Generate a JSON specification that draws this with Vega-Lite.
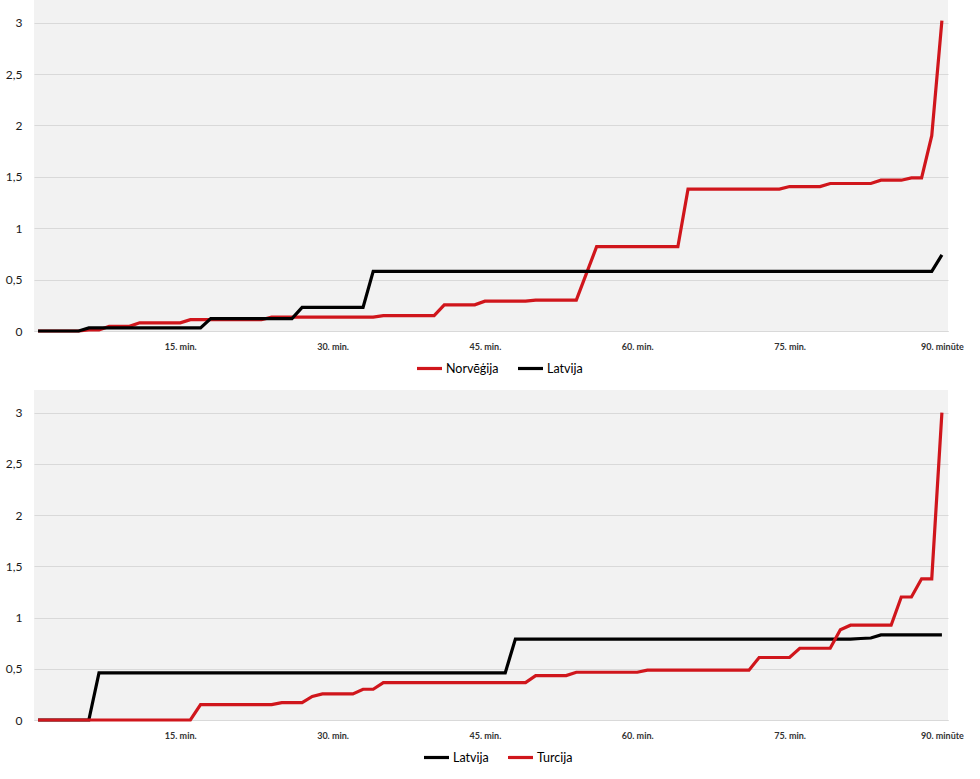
{
  "$schema": "https://vega.github.io/schema/vega-lite/v6.json",
  "padding": 0,
  "background": "white",
  "spacing": 59,
  "bounds": "flush",
  "datasets": {
    "top": [
      {"team": "Norvēģija", "minute": 1, "xg": 0},
      {"team": "Norvēģija", "minute": 5, "xg": 0},
      {"team": "Norvēģija", "minute": 6, "xg": 0.01},
      {"team": "Norvēģija", "minute": 7, "xg": 0.01},
      {"team": "Norvēģija", "minute": 8, "xg": 0.045},
      {"team": "Norvēģija", "minute": 10, "xg": 0.045},
      {"team": "Norvēģija", "minute": 11, "xg": 0.08},
      {"team": "Norvēģija", "minute": 15, "xg": 0.08},
      {"team": "Norvēģija", "minute": 16, "xg": 0.11},
      {"team": "Norvēģija", "minute": 23, "xg": 0.11},
      {"team": "Norvēģija", "minute": 24, "xg": 0.135},
      {"team": "Norvēģija", "minute": 34, "xg": 0.135},
      {"team": "Norvēģija", "minute": 35, "xg": 0.15},
      {"team": "Norvēģija", "minute": 40, "xg": 0.15},
      {"team": "Norvēģija", "minute": 41, "xg": 0.255},
      {"team": "Norvēģija", "minute": 44, "xg": 0.255},
      {"team": "Norvēģija", "minute": 45, "xg": 0.29},
      {"team": "Norvēģija", "minute": 49, "xg": 0.29},
      {"team": "Norvēģija", "minute": 50, "xg": 0.3},
      {"team": "Norvēģija", "minute": 54, "xg": 0.3},
      {"team": "Norvēģija", "minute": 55, "xg": 0.56},
      {"team": "Norvēģija", "minute": 56, "xg": 0.82},
      {"team": "Norvēģija", "minute": 64, "xg": 0.82},
      {"team": "Norvēģija", "minute": 65, "xg": 1.38},
      {"team": "Norvēģija", "minute": 74, "xg": 1.38},
      {"team": "Norvēģija", "minute": 75, "xg": 1.405},
      {"team": "Norvēģija", "minute": 78, "xg": 1.405},
      {"team": "Norvēģija", "minute": 79, "xg": 1.435},
      {"team": "Norvēģija", "minute": 83, "xg": 1.435},
      {"team": "Norvēģija", "minute": 84, "xg": 1.467},
      {"team": "Norvēģija", "minute": 86, "xg": 1.467},
      {"team": "Norvēģija", "minute": 87, "xg": 1.49},
      {"team": "Norvēģija", "minute": 88, "xg": 1.49},
      {"team": "Norvēģija", "minute": 89, "xg": 1.9},
      {"team": "Norvēģija", "minute": 90, "xg": 3.02},
      {"team": "Latvija", "minute": 1, "xg": 0},
      {"team": "Latvija", "minute": 5, "xg": 0},
      {"team": "Latvija", "minute": 6, "xg": 0.03},
      {"team": "Latvija", "minute": 17, "xg": 0.03},
      {"team": "Latvija", "minute": 18, "xg": 0.12},
      {"team": "Latvija", "minute": 26, "xg": 0.12},
      {"team": "Latvija", "minute": 27, "xg": 0.23},
      {"team": "Latvija", "minute": 33, "xg": 0.23},
      {"team": "Latvija", "minute": 34, "xg": 0.58},
      {"team": "Latvija", "minute": 89, "xg": 0.58},
      {"team": "Latvija", "minute": 90, "xg": 0.74}
    ],
    "bottom": [
      {"team": "Latvija", "minute": 1, "xg": 0},
      {"team": "Latvija", "minute": 6, "xg": 0},
      {"team": "Latvija", "minute": 7, "xg": 0.46},
      {"team": "Latvija", "minute": 47, "xg": 0.46},
      {"team": "Latvija", "minute": 48, "xg": 0.79},
      {"team": "Latvija", "minute": 81, "xg": 0.79},
      {"team": "Latvija", "minute": 82, "xg": 0.795},
      {"team": "Latvija", "minute": 83, "xg": 0.8},
      {"team": "Latvija", "minute": 84, "xg": 0.83},
      {"team": "Latvija", "minute": 90, "xg": 0.83},
      {"team": "Turcija", "minute": 1, "xg": 0},
      {"team": "Turcija", "minute": 16, "xg": 0},
      {"team": "Turcija", "minute": 17, "xg": 0.15},
      {"team": "Turcija", "minute": 24, "xg": 0.15},
      {"team": "Turcija", "minute": 25, "xg": 0.17},
      {"team": "Turcija", "minute": 27, "xg": 0.17},
      {"team": "Turcija", "minute": 28, "xg": 0.23},
      {"team": "Turcija", "minute": 29, "xg": 0.255},
      {"team": "Turcija", "minute": 32, "xg": 0.255},
      {"team": "Turcija", "minute": 33, "xg": 0.3},
      {"team": "Turcija", "minute": 34, "xg": 0.3},
      {"team": "Turcija", "minute": 35, "xg": 0.365},
      {"team": "Turcija", "minute": 49, "xg": 0.365},
      {"team": "Turcija", "minute": 50, "xg": 0.433},
      {"team": "Turcija", "minute": 53, "xg": 0.433},
      {"team": "Turcija", "minute": 54, "xg": 0.466},
      {"team": "Turcija", "minute": 60, "xg": 0.466},
      {"team": "Turcija", "minute": 61, "xg": 0.486},
      {"team": "Turcija", "minute": 71, "xg": 0.486},
      {"team": "Turcija", "minute": 72, "xg": 0.61},
      {"team": "Turcija", "minute": 75, "xg": 0.61},
      {"team": "Turcija", "minute": 76, "xg": 0.7},
      {"team": "Turcija", "minute": 79, "xg": 0.7},
      {"team": "Turcija", "minute": 80, "xg": 0.88},
      {"team": "Turcija", "minute": 81, "xg": 0.925},
      {"team": "Turcija", "minute": 85, "xg": 0.925},
      {"team": "Turcija", "minute": 86, "xg": 1.2},
      {"team": "Turcija", "minute": 87, "xg": 1.2},
      {"team": "Turcija", "minute": 88, "xg": 1.378},
      {"team": "Turcija", "minute": 89, "xg": 1.378},
      {"team": "Turcija", "minute": 90, "xg": 3.0}
    ]
  },
  "config": {
    "font": "Lato",
    "view": {"fill": "#f2f2f2", "stroke": null},
    "axis": {"labelFont": "Lato", "tickSize": 0, "ticks": false, "title": null},
    "legend": {"labelFont": "Lato"}
  },
  "vconcat": [
    {
      "width": 914,
      "height": 331,
      "data": {"name": "top"},
      "mark": {"type": "line", "strokeWidth": 3.2, "strokeJoin": "miter"},
      "encoding": {
        "x": {
          "field": "minute",
          "type": "quantitative",
          "scale": {"domain": [0.6, 90.6], "nice": false, "zero": false},
          "axis": {
            "values": [15, 30, 45, 60, 75, 90],
            "labelExpr": "datum.value == 90 ? '90. minūte' : datum.value + '. min.'",
            "labelFontSize": 9,
            "labelFontWeight": "bold",
            "labelColor": "#333333",
            "labelPadding": 11,
            "grid": false,
            "domainColor": "#d9d9d9",
            "labelFlush": false
          }
        },
        "y": {
          "field": "xg",
          "type": "quantitative",
          "scale": {"domain": [0, 3.22], "nice": false},
          "axis": {
            "values": [0, 0.5, 1, 1.5, 2, 2.5, 3],
            "labelExpr": "replace(format(datum.value, '~g'), '.', ',')",
            "labelFontSize": 12,
            "labelColor": "#1a1a1a",
            "labelPadding": 12,
            "minExtent": 34,
            "maxExtent": 34,
            "domain": false,
            "gridColor": "#d9d9d9",
            "gridWidth": 1
          }
        },
        "color": {
          "field": "team",
          "type": "nominal",
          "sort": ["Norvēģija", "Latvija"],
          "scale": {"domain": ["Norvēģija", "Latvija"], "range": ["#d0161c", "#000000"]},
          "legend": {
            "title": null,
            "orient": "none",
            "direction": "horizontal",
            "legendX": 381,
            "legendY": 354,
            "symbolType": "stroke",
            "symbolSize": 625,
            "symbolStrokeWidth": 3.2,
            "labelFontSize": 12.5,
            "labelColor": "#000000",
            "labelOffset": 2,
            "columnPadding": 12
          }
        }
      }
    },
    {
      "width": 914,
      "height": 330,
      "data": {"name": "bottom"},
      "mark": {"type": "line", "strokeWidth": 3.2, "strokeJoin": "miter"},
      "encoding": {
        "x": {
          "field": "minute",
          "type": "quantitative",
          "scale": {"domain": [0.6, 90.6], "nice": false, "zero": false},
          "axis": {
            "values": [15, 30, 45, 60, 75, 90],
            "labelExpr": "datum.value == 90 ? '90. minūte' : datum.value + '. min.'",
            "labelFontSize": 9,
            "labelFontWeight": "bold",
            "labelColor": "#333333",
            "labelPadding": 11,
            "grid": false,
            "domainColor": "#d9d9d9",
            "labelFlush": false
          }
        },
        "y": {
          "field": "xg",
          "type": "quantitative",
          "scale": {"domain": [0, 3.22], "nice": false},
          "axis": {
            "values": [0, 0.5, 1, 1.5, 2, 2.5, 3],
            "labelExpr": "replace(format(datum.value, '~g'), '.', ',')",
            "labelFontSize": 12,
            "labelColor": "#1a1a1a",
            "labelPadding": 12,
            "minExtent": 34,
            "maxExtent": 34,
            "domain": false,
            "gridColor": "#d9d9d9",
            "gridWidth": 1
          }
        },
        "color": {
          "field": "team",
          "type": "nominal",
          "sort": ["Latvija", "Turcija"],
          "scale": {"domain": ["Latvija", "Turcija"], "range": ["#000000", "#d0161c"]},
          "legend": {
            "title": null,
            "orient": "none",
            "direction": "horizontal",
            "legendX": 388,
            "legendY": 353,
            "symbolType": "stroke",
            "symbolSize": 625,
            "symbolStrokeWidth": 3.2,
            "labelFontSize": 12.5,
            "labelColor": "#000000",
            "labelOffset": 2,
            "columnPadding": 12
          }
        }
      }
    }
  ],
  "resolve": {"scale": {"color": "independent"}, "legend": {"color": "independent"}}
}
